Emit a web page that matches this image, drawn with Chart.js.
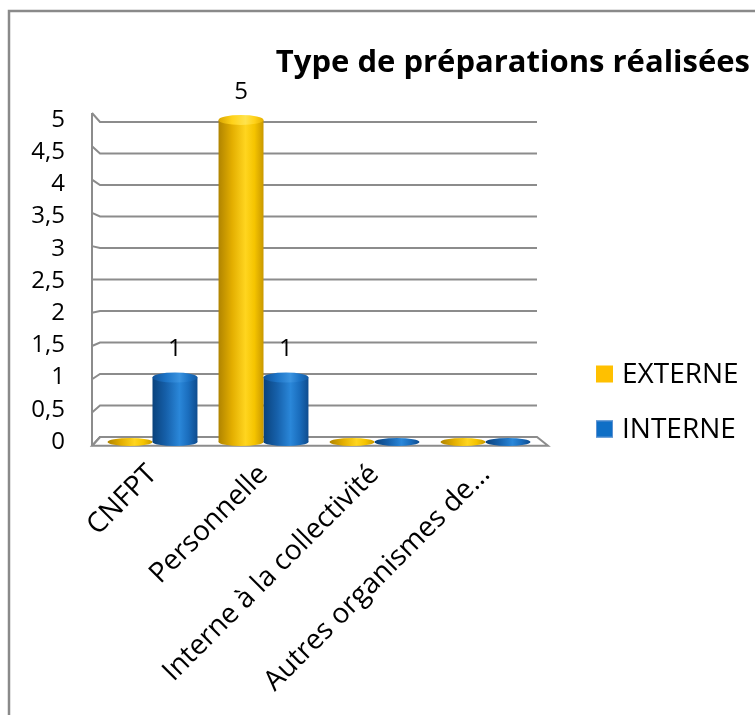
<!DOCTYPE html>
<html>
<head>
<title>Type de préparations réalisées</title>
<script src="https://cdn.jsdelivr.net/npm/chart.js"></script>
<style>
    body { margin: 0; background: #fff; }
</style>
</head>
<body>
<canvas id="prepChart" width="755" height="715"></canvas>
<script>
    var categories = ['CNFPT', 'Personnelle', 'Interne à la collectivité', 'Autres organismes de…'];
    var externe = [0, 5, 0, 0];
    var interne = [1, 1, 0, 0];
    var seriesNames = ['EXTERNE', 'INTERNE'];
    var seriesColors = ['#ffc000', '#0f6fc6'];
    var chartTitle = 'Type de préparations réalisées';

    var FONT = '"Open Sans", "DejaVu Sans", sans-serif';
    var GRID = '#8c8c8c';
    var catPct = 0.81;

    // colour stops across a bar, left to right, to give the cylinder look
    var shades = [
        ['#b08400', '#e3ae00', '#ffd51f', '#f5c400', '#c99800'],
        ['#0a427c', '#1660aa', '#2a87d9', '#1a6dbd', '#0f4c8e']
    ];
    var topShades = [
        ['#d9a600', '#ffd21a', '#ffe34d', '#ffd21a', '#e6b000'],
        ['#0f529a', '#1d74c6', '#3a93e0', '#1d74c6', '#135aa3']
    ];

    function hGradient(ctx, left, right, stops) {
        var g = ctx.createLinearGradient(left, 0, right, 0);
        var pos = [0, 0.3, 0.6, 0.8, 1];
        for (var i = 0; i < stops.length; i++) {
            g.addColorStop(pos[i], stops[i]);
        }
        return g;
    }

    function barFill(c) {
        var chart = c.chart;
        if (!chart.chartArea) {
            return seriesColors[c.datasetIndex];
        }
        var xs = chart.scales.x;
        var cx = xs.getPixelForValue(c.dataIndex);
        var w = xs.width / categories.length * catPct / 2;
        var left = c.datasetIndex === 0 ? cx - w : cx;
        return hGradient(chart.ctx, left, left + w, shades[c.datasetIndex]);
    }

    // outer frame, 3D wall / floor and the perspective grid lines
    var framePlugin = {
        id: 'frame',
        beforeDraw: function (chart) {
            var ctx = chart.ctx;
            ctx.save();
            ctx.strokeStyle = '#8a8a8a';
            ctx.lineWidth = 2.5;
            ctx.strokeRect(9, 11, 800, 800);
            ctx.restore();
        },
        beforeDatasetsDraw: function (chart) {
            var ctx = chart.ctx, a = chart.chartArea, ys = chart.scales.y;
            var h = a.bottom - a.top;
            var backX = a.left + 3, frontX = a.left - 5, rightX = a.right - 4;

            function backY(v) {
                var p = ys.getPixelForValue(v);
                return p - 5 + 7 * (a.bottom - p) / h;
            }
            function frontY(yb) {
                return yb - (9 - 17.8 * (yb - a.top - 2) / (h - 7));
            }

            ctx.save();
            ctx.strokeStyle = GRID;
            ctx.lineWidth = 2;
            ctx.lineJoin = 'miter';

            var by0 = backY(0), fy0 = frontY(by0);
            ctx.beginPath();
            ctx.moveTo(frontX, fy0);
            ctx.lineTo(a.right + 7, fy0);
            ctx.lineTo(rightX, by0);
            ctx.lineTo(backX, by0);
            ctx.closePath();
            ctx.fillStyle = '#fff';
            ctx.fill();
            ctx.stroke();

            var top = frontY(backY(ys.max));
            ctx.beginPath();
            ctx.moveTo(frontX, top);
            ctx.lineTo(frontX, fy0);
            ctx.stroke();

            ys.ticks.forEach(function (t) {
                var yb = backY(t.value);
                ctx.beginPath();
                ctx.moveTo(frontX, frontY(yb));
                ctx.lineTo(backX, yb);
                ctx.lineTo(rightX, yb);
                ctx.stroke();
            });
            ctx.restore();
        },
        afterDatasetsDraw: function (chart) {
            var ctx = chart.ctx;
            ctx.save();
            chart.data.datasets.forEach(function (ds, di) {
                var meta = chart.getDatasetMeta(di);
                meta.data.forEach(function (el, i) {
                    var rx = el.width / 2;
                    var left = el.x - rx, right = el.x + rx;
                    var value = ds.data[i];

                    ctx.fillStyle = hGradient(ctx, left, right, shades[di]);
                    ctx.beginPath();
                    ctx.ellipse(el.x, el.base, rx, 4, 0, 0, Math.PI * 2);
                    ctx.fill();

                    if (value > 0) {
                        ctx.fillStyle = hGradient(ctx, left, right, topShades[di]);
                        ctx.beginPath();
                        ctx.ellipse(el.x, el.y, rx, 5, 0, 0, Math.PI * 2);
                        ctx.fill();

                        ctx.fillStyle = '#000';
                        ctx.font = '24px ' + FONT;
                        ctx.textAlign = 'center';
                        ctx.textBaseline = 'middle';
                        ctx.fillText(String(value), el.x, el.y - 28);
                    }
                });
            });
            ctx.restore();
        },
        afterDraw: function (chart) {
            var ctx = chart.ctx;
            ctx.save();
            ctx.fillStyle = '#000';
            ctx.font = 'bold 31px ' + FONT;
            ctx.textAlign = 'right';
            ctx.textBaseline = 'alphabetic';
            ctx.fillText(chartTitle, 750, 72);

            // legend
            ctx.font = '28px ' + FONT;
            ctx.textAlign = 'left';
            ctx.textBaseline = 'middle';
            chart.data.datasets.forEach(function (ds, di) {
                var cy = 374 + di * 55;
                ctx.fillStyle = seriesColors[di];
                ctx.fillRect(596, cy - 8.5, 17, 17);
                if (di === 1) {
                    ctx.strokeStyle = '#5d92d2';
                    ctx.lineWidth = 1;
                    ctx.strokeRect(596.5, cy - 8, 16, 16);
                }
                ctx.fillStyle = '#000';
                ctx.fillText(ds.label, 622, cy + 1);
            });
            ctx.restore();
        }
    };

    var ctx = document.getElementById('prepChart').getContext('2d');
    var chart = new Chart(ctx, {
        type: 'bar',
        data: {
            labels: categories,
            datasets: [{
                label: seriesNames[0],
                data: externe,
                backgroundColor: barFill,
                borderWidth: 0,
                categoryPercentage: catPct,
                barPercentage: 1
            }, {
                label: seriesNames[1],
                data: interne,
                backgroundColor: barFill,
                borderWidth: 0,
                categoryPercentage: catPct,
                barPercentage: 1
            }]
        },
        options: {
            responsive: false,
            animation: false,
            devicePixelRatio: 1,
            layout: {
                padding: { left: 0, top: 120, right: 214, bottom: 0 }
            },
            plugins: {
                legend: { display: false },
                title: { display: false },
                tooltip: { enabled: false }
            },
            scales: {
                x: {
                    grid: { display: false, drawTicks: false },
                    border: { display: false },
                    ticks: {
                        autoSkip: false,
                        maxRotation: 45,
                        minRotation: 45,
                        padding: 16,
                        color: '#000',
                        font: { family: FONT, size: 28 }
                    },
                    afterFit: function (scale) {
                        scale.height = 273;
                    }
                },
                y: {
                    min: 0,
                    max: 5,
                    grid: { display: false, drawTicks: false },
                    border: { display: false },
                    ticks: {
                        stepSize: 0.5,
                        padding: 32,
                        color: '#000',
                        font: { family: FONT, size: 24 },
                        callback: function (value) {
                            return String(value).replace('.', ',');
                        }
                    },
                    afterFit: function (scale) {
                        scale.width = 97;
                    }
                }
            }
        },
        plugins: [framePlugin]
    });
</script>
</body>
</html>
